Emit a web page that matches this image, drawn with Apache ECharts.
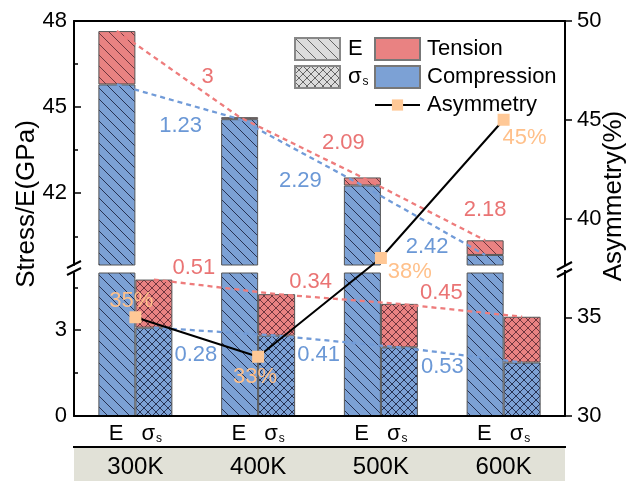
<!DOCTYPE html>
<html><head><meta charset="utf-8">
<script src="https://cdn.jsdelivr.net/npm/echarts@6/dist/echarts.min.js"></script>
<style>html,body{margin:0;padding:0;background:#fff}#c{width:633px;height:481px}</style>
</head><body><div id="c"></div>
<script>
// ---------- data ----------
const categories = ['300K', '400K', '500K', '600K'];
const eCompression = [45.79, 44.58, 42.27, 39.85];
const eTensionTop = [47.65, 44.65, 42.55, 40.36];
const sCompression = [3.09, 2.81, 2.40, 1.87];
const sTensionTop = [4.77, 4.26, 3.92, 3.47];
const asymmetry = [35, 33, 38, 45];
const eTensionDrop = ['3', '2.09', '2.18'];
const eCompressionDrop = ['1.23', '2.29', '2.42'];
const sTensionDrop = ['0.51', '0.34', '0.45'];
const sCompressionDrop = ['0.28', '0.41', '0.53'];
const upperTicks = [42, 45, 48];
const upperMinorTicks = [40.5, 43.5, 46.5];
const lowerTicks = [0, 3];
const lowerMinorTicks = [1.5, 4.5];
const asymTicksInterval = 5;

// ---------- layout / style ----------
const FONT = 'Liberation Sans, Arial, sans-serif';
const GL = 74, GR = 68, GT = 21, GB = 65;
const BAR_W = 37;
const band = (633 - GL - GR) / categories.length;
const off = BAR_W / 2 / band;
const RED = '#E98282', BLUE = '#7CA1D5';
const RED_TXT = '#EA7474', BLUE_TXT = '#6B98D6';
const PEACH = '#FFC896';

function pattern(base, cross, ink) {
  const p = cross ? 8 : 11;
  const c = document.createElement('canvas');
  c.width = p; c.height = p;
  const g = c.getContext('2d');
  g.fillStyle = base; g.fillRect(0, 0, p, p);
  g.strokeStyle = ink || 'rgba(25,30,60,0.85)';
  g.lineWidth = 1;
  g.beginPath();
  for (const k of [-1, 0, 1]) {
    g.moveTo(k * p, 0); g.lineTo(k * p + p, p);
    if (cross) { g.moveTo(k * p + p, 0); g.lineTo(k * p, p); }
  }
  g.stroke();
  return { image: c, repeat: 'repeat' };
}
const pBlueDiag = pattern(BLUE, false);
const pRedDiag = pattern(RED, false, 'rgba(80,35,45,0.8)');
const pBlueCross = pattern(BLUE, true);
const pRedCross = pattern(RED, true, 'rgba(80,35,45,0.8)');
const pGreyDiag = pattern('#DCDCDC', false, 'rgba(80,80,80,0.85)');
const pGreyCross = pattern('#DCDCDC', true, 'rgba(80,80,80,0.85)');

const diff = (a, b) => a.map((v, i) => +(v - b[i]).toFixed(3));

function bars(xi, yi) {
  const base = { type: 'bar', xAxisIndex: xi, yAxisIndex: yi, barWidth: BAR_W, barGap: '0%', clip: true, silent: true,
    itemStyle: { borderColor: '#555', borderWidth: 1 } };
  return [
    Object.assign({}, base, { stack: 'E' + xi, data: eCompression, itemStyle: Object.assign({}, base.itemStyle, { color: pBlueDiag }) }),
    Object.assign({}, base, { stack: 'E' + xi, data: diff(eTensionTop, eCompression), itemStyle: Object.assign({}, base.itemStyle, { color: pRedDiag }) }),
    Object.assign({}, base, { stack: 'S' + xi, data: sCompression, itemStyle: Object.assign({}, base.itemStyle, { color: pBlueCross }) }),
    Object.assign({}, base, { stack: 'S' + xi, data: diff(sTensionTop, sCompression), itemStyle: Object.assign({}, base.itemStyle, { color: pRedCross }) })
  ];
}

// label offsets (pixels) for the drop labels
const eTensionLabelOff = [[-32, -40], [-19, -35], [0, -30]];
const eCompLabelOff = [[-59, 7], [-62, -5], [-58, -8]];
const sTensionLabelOff = [[40, -12], [34, -12], [42, -11]];
const sCompLabelOff = [[42, 27], [42, 19], [43, 20]];
const asymLabelOff = [[-4, -16], [-3, 20], [29, 14], [21, 18]];

function dashed(xi, yi, shift, vals, labels, offs, startIdx, lineColor, txtColor) {
  return {
    type: 'line', xAxisIndex: xi, yAxisIndex: yi, z: 4, silent: true,
    symbol: 'circle', symbolSize: 1, itemStyle: { color: 'rgba(0,0,0,0)' },
    lineStyle: { color: lineColor, width: 2.3, type: [5, 4] },
    data: vals.map((v, i) => {
      const item = { value: [i + 0.5 + shift, v] };
      const li = i - startIdx;
      if (li >= 0 && li < labels.length) {
        item.label = { show: true, position: 'inside', offset: offs[li], formatter: labels[li],
          color: txtColor, fontSize: 22, fontFamily: FONT };
      }
      return item;
    })
  };
}

const hiddenVal = (gi) => ({ type: 'value', gridIndex: gi, min: 0, max: categories.length, show: false });

const option = {
  animation: false,
  textStyle: { fontFamily: FONT },
  grid: [
    { left: GL, right: GR, top: GT, height: 244 },
    { left: GL, right: GR, top: 273, bottom: GB },
    { left: GL, right: GR, top: GT, bottom: GB }
  ],
  xAxis: [
    { type: 'category', gridIndex: 0, position: 'top', data: categories, z: 10,
      axisLine: { lineStyle: { color: '#000', width: 2 } }, axisTick: { show: false }, axisLabel: { show: false } },
    Object.assign(hiddenVal(0), { position: 'bottom' }),
    { type: 'category', gridIndex: 1, position: 'bottom', data: categories, z: 10,
      axisLine: { lineStyle: { color: '#000', width: 2 } }, axisTick: { show: false },
      axisLabel: { interval: 0, margin: 7, color: '#000', fontSize: 22,
        formatter: () => '{e|E}{g| }{s|σ}{b|s}',
        rich: { e: { fontSize: 22 }, g: { width: 18, fontSize: 22 }, s: { fontSize: 22 },
                b: { fontSize: 12, padding: [10, 0, 0, 1] } } } },
    Object.assign(hiddenVal(1), { position: 'top' }),
    { type: 'category', gridIndex: 2, position: 'bottom', data: categories,
      axisLine: { show: false }, axisTick: { show: false },
      axisLabel: { interval: 0, margin: 39, color: '#000', fontSize: 24 } }
  ],
  yAxis: [
    { type: 'value', gridIndex: 0, position: 'left', min: 39.5, max: 48, splitLine: { show: false },
      axisLine: { show: true, lineStyle: { color: '#000', width: 2 } },
      axisTick: { show: true, inside: true, length: 7, customValues: upperTicks, lineStyle: { color: '#000', width: 1.5 } },
      axisLabel: { customValues: upperTicks, margin: 7, color: '#000', fontSize: 22 } },
    { type: 'value', gridIndex: 0, position: 'left', min: 39.5, max: 48, splitLine: { show: false },
      axisLine: { show: false }, axisLabel: { show: false },
      axisTick: { show: true, inside: true, length: 4, customValues: upperMinorTicks, lineStyle: { color: '#000', width: 1.5 } } },
    { type: 'value', gridIndex: 1, position: 'left', min: 0, max: 5, splitLine: { show: false },
      axisLine: { show: true, lineStyle: { color: '#000', width: 2 } },
      axisTick: { show: true, inside: true, length: 7, customValues: lowerTicks, lineStyle: { color: '#000', width: 1.5 } },
      axisLabel: { customValues: lowerTicks, margin: 7, color: '#000', fontSize: 22 } },
    { type: 'value', gridIndex: 1, position: 'left', min: 0, max: 5, splitLine: { show: false },
      axisLine: { show: false }, axisLabel: { show: false },
      axisTick: { show: true, inside: true, length: 4, customValues: lowerMinorTicks, lineStyle: { color: '#000', width: 1.5 } } },
    { type: 'value', gridIndex: 2, position: 'right', min: 30, max: 50, interval: asymTicksInterval, splitLine: { show: false },
      axisLine: { show: true, lineStyle: { color: '#000', width: 2 } },
      axisTick: { show: true, inside: false, length: 7, lineStyle: { color: '#000', width: 1.5 } },
      axisLabel: { margin: 12, color: '#000', fontSize: 22 } }
  ],
  legend: [
    { data: ['E', 'σs'], left: 289, top: 32, orient: 'vertical', itemWidth: 45, itemHeight: 22, itemGap: 4,
      selectedMode: false, icon: 'rect',
      textStyle: { fontSize: 22, color: '#000', padding: [0, 0, 0, 3],
        rich: { a: { fontSize: 22 }, b: { fontSize: 12, padding: [10, 0, 0, 1] } } },
      formatter: (n) => n === 'σs' ? '{a|σ}{b|s}' : n },
    { data: ['Tension', 'Compression'], left: 369, top: 32, orient: 'vertical', itemWidth: 45, itemHeight: 22, itemGap: 4,
      selectedMode: false, icon: 'rect', textStyle: { fontSize: 22, color: '#000', padding: [0, 0, 0, 2] } },
    { data: ['Asymmetry'], left: 369, top: 89, orient: 'vertical', itemWidth: 45, itemHeight: 14,
      selectedMode: false, textStyle: { fontSize: 22, color: '#000', padding: [0, 0, 0, 2] } }
  ],
  series: [].concat(
    bars(0, 0),
    bars(2, 2),
    [
      dashed(1, 0, -off, eTensionTop, eTensionDrop, eTensionLabelOff, 1, '#EE7C7C', RED_TXT),
      dashed(1, 0, -off, eCompression, eCompressionDrop, eCompLabelOff, 1, '#719BD8', BLUE_TXT),
      dashed(3, 2, off, sTensionTop, sTensionDrop, sTensionLabelOff, 0, '#EE7C7C', RED_TXT),
      dashed(3, 2, off, sCompression, sCompressionDrop, sCompLabelOff, 0, '#719BD8', BLUE_TXT),
      { type: 'line', name: 'Asymmetry', xAxisIndex: 4, yAxisIndex: 4, z: 6, silent: true,
        symbol: 'rect', symbolSize: 12, itemStyle: { color: PEACH },
        lineStyle: { color: '#000', width: 2 },
        data: asymmetry.map((v, i) => ({ value: v, label: { show: true, position: 'inside', offset: asymLabelOff[i],
          formatter: v + '%', color: '#FFC08A', fontSize: 22, fontFamily: FONT } })) },
      { type: 'bar', name: 'E', xAxisIndex: 4, yAxisIndex: 4, data: [], itemStyle: { color: pGreyDiag, borderColor: '#888', borderWidth: 1 } },
      { type: 'bar', name: 'σs', xAxisIndex: 4, yAxisIndex: 4, data: [], itemStyle: { color: pGreyCross, borderColor: '#888', borderWidth: 1 } },
      { type: 'bar', name: 'Tension', xAxisIndex: 4, yAxisIndex: 4, data: [], itemStyle: { color: RED, borderColor: '#777', borderWidth: 1 } },
      { type: 'bar', name: 'Compression', xAxisIndex: 4, yAxisIndex: 4, data: [], itemStyle: { color: BLUE, borderColor: '#777', borderWidth: 1 } }
    ]
  ),
  graphic: [
    { type: 'rect', shape: { x: GL, y: 448, width: 633 - GL - GR, height: 33 }, style: { fill: '#E1E1D7' }, z: -1 },
    { type: 'line', shape: { x1: GL - 1, y1: 447, x2: 633 - GR + 1, y2: 447 }, style: { stroke: '#000', lineWidth: 2 } },
    { type: 'text', x: 27, y: 204, rotation: Math.PI / 2,
      style: { text: 'Stress/E(GPa)', fontSize: 26, fontFamily: FONT, fill: '#000', align: 'center', verticalAlign: 'middle' } },
    { type: 'text', x: 614, y: 196, rotation: Math.PI / 2,
      style: { text: 'Asymmetry(%)', fontSize: 26, fontFamily: FONT, fill: '#000', align: 'center', verticalAlign: 'middle' } },
    { type: 'line', shape: { x1: 67, y1: 268, x2: 81, y2: 261 }, style: { stroke: '#000', lineWidth: 2 } },
    { type: 'line', shape: { x1: 67, y1: 275, x2: 81, y2: 268 }, style: { stroke: '#000', lineWidth: 2 } },
    { type: 'rect', shape: { x: 559, y: 265, width: 12, height: 5 }, style: { fill: '#fff' }, z: 50 },
    { type: 'line', shape: { x1: 557, y1: 270, x2: 572, y2: 262 }, style: { stroke: '#000', lineWidth: 2 }, z: 51 },
    { type: 'line', shape: { x1: 557, y1: 277, x2: 572, y2: 269 }, style: { stroke: '#000', lineWidth: 2 }, z: 51 }
  ]
};
const chart = echarts.init(document.getElementById('c'), null, { renderer: 'canvas' });
chart.setOption(option);
</script></body></html>
